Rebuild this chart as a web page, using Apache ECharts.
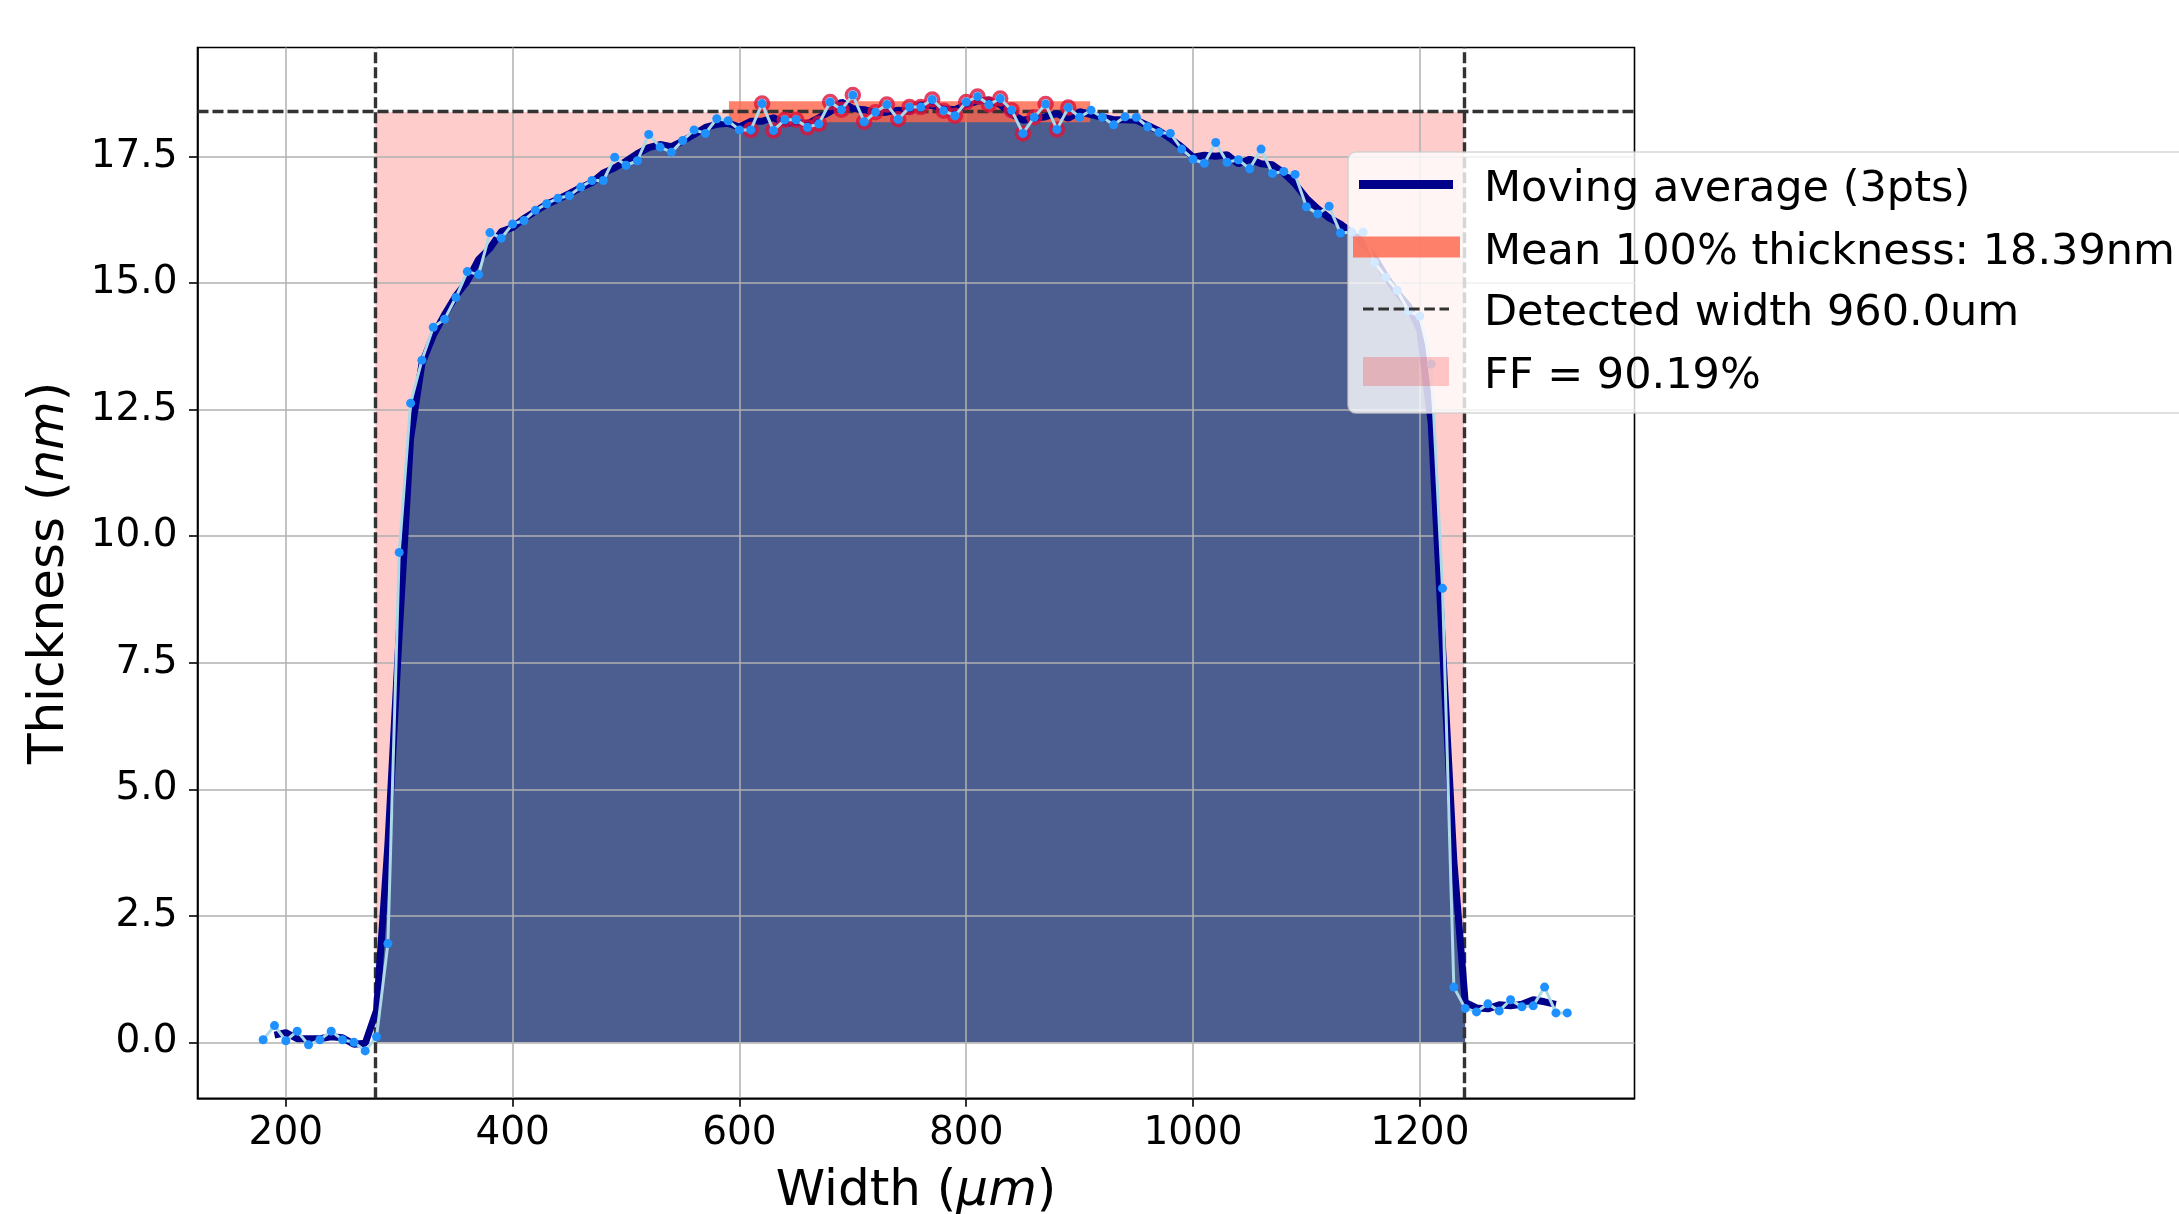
<!DOCTYPE html>
<html>
<head>
<meta charset="utf-8">
<title>Thickness profile</title>
<script src="https://cdn.jsdelivr.net/npm/echarts@6/dist/echarts.min.js"></script>
<style>
    html, body { margin: 0; padding: 0; background: #fff; }
    #main { width: 2179px; height: 1214px; }
</style>
</head>
<body>
<div id="main"></div>
<script type="text/javascript">
    // raw profile (um, nm)
    var widthUm = [180, 190, 200, 210, 220, 230, 240, 250, 260, 270,
        280, 290, 300, 310, 320, 330, 340, 350, 360, 370,
        380, 390, 400, 410, 420, 430, 440, 450, 460, 470,
        480, 490, 500, 510, 520, 530, 540, 550, 560, 570,
        580, 590, 600, 610, 620, 630, 640, 650, 660, 670,
        680, 690, 700, 710, 720, 730, 740, 750, 760, 770,
        780, 790, 800, 810, 820, 830, 840, 850, 860, 870,
        880, 890, 900, 910, 920, 930, 940, 950, 960, 970,
        980, 990, 1000, 1010, 1020, 1030, 1040, 1050, 1060, 1070,
        1080, 1090, 1100, 1110, 1120, 1130, 1140, 1150, 1160, 1170,
        1180, 1190, 1200, 1210, 1220, 1230, 1240, 1250, 1260, 1270,
        1280, 1290, 1300, 1310, 1320, 1330];
    var thickness = [0.05, 0.33, 0.03, 0.22, -0.05, 0.05, 0.22, 0.05, 0.00, -0.17,
        0.11, 1.95, 9.68, 12.63, 13.48, 14.13, 14.29, 14.72, 15.23, 15.17,
        16.00, 15.89, 16.17, 16.24, 16.44, 16.57, 16.68, 16.73, 16.90, 17.03,
        17.03, 17.49, 17.33, 17.42, 17.94, 17.69, 17.59, 17.82, 18.03, 17.96,
        18.25, 18.21, 18.03, 18.03, 18.55, 18.02, 18.23, 18.23, 18.08, 18.15,
        18.58, 18.43, 18.72, 18.19, 18.38, 18.53, 18.24, 18.48, 18.48, 18.63,
        18.41, 18.31, 18.58, 18.69, 18.53, 18.65, 18.42, 17.96, 18.28, 18.54,
        18.04, 18.47, 18.28, 18.42, 18.28, 18.13, 18.29, 18.28, 18.09, 17.98,
        17.96, 17.65, 17.45, 17.37, 17.78, 17.39, 17.44, 17.26, 17.65, 17.17,
        17.21, 17.15, 16.51, 16.37, 16.52, 15.99, 16.01, 16.01, 15.41, 15.12,
        14.86, 14.45, 14.35, 13.40, 8.97, 1.09, 0.67, 0.60, 0.76, 0.62,
        0.84, 0.70, 0.72, 1.09, 0.58, 0.58];

    // moving average (3pts)
    var maWidthUm = [190, 200, 210, 220, 230, 240, 250, 260, 270, 280,
        290, 300, 310, 320, 330, 340, 350, 360, 370, 380,
        390, 400, 410, 420, 430, 440, 450, 460, 470, 480,
        490, 500, 510, 520, 530, 540, 550, 560, 570, 580,
        590, 600, 610, 620, 630, 640, 650, 660, 670, 680,
        690, 700, 710, 720, 730, 740, 750, 760, 770, 780,
        790, 800, 810, 820, 830, 840, 850, 860, 870, 880,
        890, 900, 910, 920, 930, 940, 950, 960, 970, 980,
        990, 1000, 1010, 1020, 1030, 1040, 1050, 1060, 1070, 1080,
        1090, 1100, 1110, 1120, 1130, 1140, 1150, 1160, 1170, 1180,
        1190, 1200, 1210, 1220, 1230, 1240, 1250, 1260, 1270, 1280,
        1290, 1300, 1310, 1320];
    var maThickness = [0.14, 0.19, 0.07, 0.07, 0.07, 0.11, 0.09, -0.04, -0.02, 0.63,
        3.91, 8.09, 11.93, 13.41, 13.97, 14.38, 14.75, 15.04, 15.47, 15.69,
        16.02, 16.10, 16.28, 16.42, 16.56, 16.66, 16.77, 16.89, 16.99, 17.18,
        17.28, 17.41, 17.56, 17.68, 17.74, 17.70, 17.81, 17.94, 18.08, 18.14,
        18.16, 18.09, 18.20, 18.20, 18.27, 18.16, 18.18, 18.15, 18.27, 18.39,
        18.58, 18.45, 18.43, 18.37, 18.38, 18.42, 18.40, 18.53, 18.51, 18.45,
        18.43, 18.53, 18.60, 18.62, 18.53, 18.34, 18.22, 18.26, 18.29, 18.35,
        18.26, 18.39, 18.33, 18.28, 18.23, 18.23, 18.22, 18.12, 18.01, 17.86,
        17.69, 17.49, 17.53, 17.51, 17.54, 17.36, 17.45, 17.36, 17.34, 17.18,
        16.96, 16.68, 16.47, 16.29, 16.17, 16.00, 15.81, 15.51, 15.13, 14.81,
        14.55, 14.07, 12.24, 7.82, 3.58, 0.79, 0.68, 0.66, 0.74, 0.72,
        0.75, 0.84, 0.80, 0.75];

    var edgeUm = [279, 1239];          // detected edges (dashed lines)
    var fillRangeUm = [280, 1240];     // filled part of the profile
    var plateauRangeUm = [610, 890];   // points used for the 100% mean
    var meanWidthUm = [600, 900];
    var meanThickness = 18.39;

    var xTicks = [200, 400, 600, 800, 1000, 1200];
    var yTicks = [0, 2.5, 5, 7.5, 10, 12.5, 15, 17.5];

    var font = 'DejaVu Sans';

    function pairs(xs, ys) {
        var out = [];
        for (var i = 0; i < xs.length; i++) out.push([xs[i], ys[i]]);
        return out;
    }
    function inRange(data, r) {
        return data.filter(function (p) { return p[0] >= r[0] && p[0] <= r[1]; });
    }

    var rawData = pairs(widthUm, thickness);
    var maData = pairs(maWidthUm, maThickness);
    var fillData = inRange(maData, fillRangeUm);
    var plateauData = inRange(rawData, plateauRangeUm);
    var meanData = meanWidthUm.map(function (x) { return [x, meanThickness]; });

    var myChart = echarts.init(document.getElementById('main'));

    var dashed = { color: '#333', width: 3.4, type: [11, 4] };

    var option = {
        backgroundColor: '#fff',
        animation: false,
        textStyle: { fontFamily: font },
        grid: {
            left: 197.5, right: 544.5, top: 47.5, bottom: 115.7,
            outerBoundsMode: 'none', containLabel: false,
            show: true, borderColor: '#000', borderWidth: 1.6,
            backgroundColor: 'transparent', z: 0
        },
        xAxis: {
            type: 'value', min: 122.1, max: 1389.3, z: 0,
            axisLine: { show: true, onZero: false, lineStyle: { color: '#000', width: 1.6 } },
            axisTick: { show: true, length: 8.5, customValues: xTicks, lineStyle: { color: '#000', width: 1.6 } },
            axisLabel: {
                customValues: xTicks, margin: 16, fontSize: 39, color: '#000', fontFamily: font,
                formatter: function (v) { return String(v); }
            },
            splitLine: { show: true, lineStyle: { color: '#b0b0b0', width: 1.5 } },
            name: '{n|Width (}{i|µm}{n|)}',
            nameLocation: 'middle', nameGap: 69,
            nameTextStyle: {
                fontSize: 50, color: '#000', fontFamily: font,
                rich: {
                    n: { fontSize: 50, fontFamily: font, color: '#000' },
                    i: { fontSize: 50, fontFamily: font, fontStyle: 'italic', color: '#000' }
                }
            }
        },
        yAxis: {
            type: 'value', min: -1.107, max: 19.658, z: 0,
            axisLine: { show: true, onZero: false, lineStyle: { color: '#000', width: 1.6 } },
            axisTick: { show: true, length: 8.5, customValues: yTicks, lineStyle: { color: '#000', width: 1.6 } },
            axisLabel: {
                customValues: yTicks, margin: 20, fontSize: 39, color: '#000', fontFamily: font,
                formatter: function (v) { return v.toFixed(1); }
            },
            splitLine: { show: true, lineStyle: { color: '#b0b0b0', width: 1.5 } },
            name: '{n|Thickness (}{i|nm}{n|)}',
            nameLocation: 'middle', nameGap: 122,
            nameTextStyle: {
                fontSize: 50, color: '#000', fontFamily: font,
                rich: {
                    n: { fontSize: 50, fontFamily: font, color: '#000' },
                    i: { fontSize: 50, fontFamily: font, fontStyle: 'italic', color: '#000' }
                }
            }
        },
        series: [
            {
                name: 'fill', type: 'line', data: fillData, z: -2, silent: true,
                symbol: 'none', lineStyle: { width: 0 },
                areaStyle: { color: '#4b5e8f', opacity: 1 },
                markArea: {
                    silent: true, z: -3,
                    itemStyle: { color: 'rgba(255,0,0,0.2)' },
                    data: [[{ coord: [edgeUm[0], 0] }, { coord: [edgeUm[1], meanThickness] }]]
                },
                markLine: {
                    silent: true, z: 4, symbol: ['none', 'none'],
                    label: { show: false },
                    lineStyle: dashed,
                    data: [
                        { xAxis: edgeUm[0] },
                        { xAxis: edgeUm[1] },
                        { yAxis: meanThickness }
                    ]
                }
            },
            {
                name: 'Mean 100% thickness', type: 'line', data: meanData, z: 3, silent: true,
                symbol: 'none',
                lineStyle: { color: 'rgba(255,99,71,0.8)', width: 21, cap: 'square' }
            },
            {
                name: 'Moving average (3pts)', type: 'line', data: maData, z: 5, silent: true,
                symbol: 'none',
                lineStyle: { color: '#00008b', width: 7 }
            },
            {
                name: 'plateau', type: 'scatter', data: plateauData, z: 6, silent: true,
                symbol: 'circle', symbolSize: 13,
                itemStyle: { color: 'rgba(0,0,0,0)', borderColor: '#dc143c', borderWidth: 3.5 }
            },
            {
                name: 'raw', type: 'line', data: rawData, z: 7, silent: true,
                symbol: 'circle', symbolSize: 9, showAllSymbol: true,
                lineStyle: { color: '#add8e6', width: 3 },
                itemStyle: { color: '#1e90ff', borderWidth: 0 }
            }
        ],
        graphic: [
            { type: 'rect', z: 100, shape: { x: 1348, y: 152, width: 900, height: 261, r: 8 },
              style: { fill: 'rgba(255,255,255,0.8)', stroke: 'rgba(204,204,204,0.8)', lineWidth: 1.5 } },
            { type: 'line', z: 101, shape: { x1: 1359, y1: 184.5, x2: 1453, y2: 184.5 },
              style: { stroke: '#00008b', lineWidth: 9 } },
            { type: 'line', z: 101, shape: { x1: 1363.5, y1: 247, x2: 1449.5, y2: 247 },
              style: { stroke: 'rgba(255,99,71,0.8)', lineWidth: 21, lineCap: 'square' } },
            { type: 'line', z: 101, shape: { x1: 1363, y1: 309, x2: 1449, y2: 309 },
              style: { stroke: '#333', lineWidth: 3, lineDash: [10.7, 4.6] } },
            { type: 'rect', z: 101, shape: { x: 1363, y: 357, width: 86, height: 29 },
              style: { fill: 'rgba(255,0,0,0.2)' } },
            { type: 'text', z: 101, x: 1484, y: 190,
              style: { text: 'Moving average (3pts)', fontSize: 43, fontFamily: font, fill: '#000', verticalAlign: 'middle' } },
            { type: 'text', z: 101, x: 1484, y: 252.5,
              style: { text: 'Mean 100% thickness: 18.39nm', fontSize: 43, fontFamily: font, fill: '#000', verticalAlign: 'middle' } },
            { type: 'text', z: 101, x: 1484, y: 314,
              style: { text: 'Detected width 960.0um', fontSize: 43, fontFamily: font, fill: '#000', verticalAlign: 'middle' } },
            { type: 'text', z: 101, x: 1484, y: 377,
              style: { text: 'FF = 90.19%', fontSize: 43, fontFamily: font, fill: '#000', verticalAlign: 'middle' } }
        ]
    };

    myChart.setOption(option);
</script>
</body>
</html>
